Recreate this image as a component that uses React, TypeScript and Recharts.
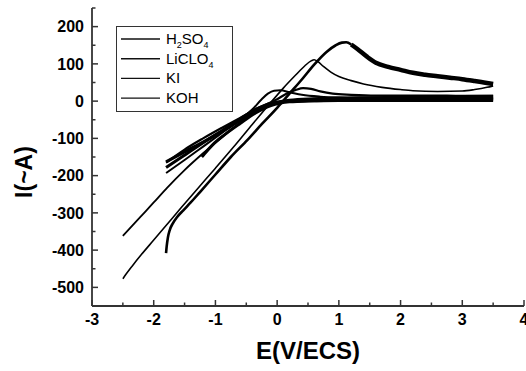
import { LineChart, Line, XAxis, YAxis, Legend } from 'recharts';

// cyclic voltammograms, [E (V/ECS), I]
const h2so4Rise = [
  [-1.8, -408], [-1.79, -390], [-1.77, -366], [-1.74, -346], [-1.69, -328], [-1.62, -311],
  [-1.52, -293], [-1.4, -272], [-1.25, -244], [-1.0, -197], [-0.75, -150], [-0.48, -104],
  [-0.25, -62], [0.0, -18], [0.2, 20], [0.4, 58], [0.6, 98], [0.8, 132], [0.95, 150],
  [1.05, 157], [1.12, 158], [1.2, 152],
];
const h2so4Decay = [
  [1.2, 152], [1.3, 140], [1.45, 120], [1.6, 103], [1.8, 92], [2.0, 84], [2.2, 76], [2.4, 71],
  [2.6, 67], [2.8, 63], [3.0, 59], [3.2, 54], [3.35, 50], [3.5, 46],
];
const h2so4Back = [
  [-1.8, -163], [-1.5, -136], [-1.2, -110], [-0.9, -82], [-0.6, -52], [-0.35, -28], [-0.1, -8],
  [0.2, 2], [0.6, 6], [1.0, 8], [1.5, 9], [2.0, 10], [2.5, 11], [3.0, 12], [3.5, 13],
];
const liclo4Forward = [
  [-2.5, -477], [-2.45, -465], [-2.35, -443], [-2.2, -412], [-2.0, -373], [-1.8, -334],
  [-1.56, -287], [-1.3, -237], [-1.0, -180], [-0.7, -122], [-0.4, -62], [-0.11, -5], [0.1, 35],
  [0.3, 70], [0.45, 95], [0.55, 108], [0.6, 111], [0.66, 106], [0.75, 93], [0.87, 78], [1.0, 66],
  [1.2, 55], [1.4, 46], [1.7, 37], [2.0, 31], [2.2, 28], [2.6, 26], [3.0, 27], [3.2, 31],
  [3.4, 37], [3.5, 41],
];
const liclo4Back = [
  [-2.5, -362], [-2.2, -308], [-2.0, -272], [-1.78, -232], [-1.5, -185], [-1.2, -140],
  [-0.9, -98], [-0.6, -58], [-0.3, -22], [0.0, -3], [0.4, 3], [1.0, 5], [2.0, 6], [3.0, 7], [3.5, 8],
];
const kiForward = [
  [-1.8, -193], [-1.5, -158], [-1.2, -122], [-0.9, -86], [-0.6, -50], [-0.4, -22], [-0.25, 5],
  [-0.15, 20], [-0.05, 28], [0.05, 29], [0.2, 24], [0.4, 17], [0.7, 12], [1.0, 10], [1.5, 9],
  [2.0, 8], [2.5, 8], [3.0, 7], [3.5, 7],
];
const kiBack = [
  [-1.8, -178], [-1.5, -145], [-1.2, -112], [-0.9, -80], [-0.6, -48], [-0.35, -22], [-0.1, -6],
  [0.2, -1], [0.6, 1], [1.0, 2], [2.0, 2], [3.0, 2], [3.5, 2],
];
const kohForward = [
  [-1.8, -165], [-1.5, -130], [-1.2, -100], [-0.9, -72], [-0.6, -45], [-0.3, -18], [0.0, 5],
  [0.15, 20], [0.3, 30], [0.42, 35], [0.55, 33], [0.7, 26], [0.9, 20], [1.2, 17], [1.6, 15],
  [2.0, 15], [2.5, 15], [3.0, 14], [3.5, 14],
];
const kohBack = [
  [-1.22, -150], [-1.18, -142], [-1.05, -118], [-0.85, -90], [-0.6, -60], [-0.35, -32],
  [-0.1, -12], [0.2, -2], [0.6, 1], [1.0, 3], [2.0, 4], [3.0, 5], [3.5, 5],
];

const legendLabels = ['H_2SO_4', 'LiCLO_4', 'KI', 'KOH'];
const eTicks = [-3, -2.5, -2, -1.5, -1, -0.5, 0, 0.5, 1, 1.5, 2, 2.5, 3, 3.5, 4];
const iTicks = [-550, -500, -450, -400, -350, -300, -250, -200, -150, -100, -50, 0, 50, 100, 150, 200, 250];

const toPoints = (rows: number[][]) => rows.map(([e, i]) => ({ e, i }));

const branches = [
  { key: 'h2so4Rise', rows: h2so4Rise, width: 2.6 },
  { key: 'h2so4Decay', rows: h2so4Decay, width: 4.5 },
  { key: 'h2so4Back', rows: h2so4Back, width: 3.2 },
  { key: 'liclo4Forward', rows: liclo4Forward, width: 1.6 },
  { key: 'liclo4Back', rows: liclo4Back, width: 1.8 },
  { key: 'kiForward', rows: kiForward, width: 2 },
  { key: 'kiBack', rows: kiBack, width: 3 },
  { key: 'kohForward', rows: kohForward, width: 2.2 },
  { key: 'kohBack', rows: kohBack, width: 3 },
];

const FONT = '"Liberation Sans", Arial, Helvetica, sans-serif';
const FRAME = '#333';

const isMajorE = (v: number) => Number.isInteger(v);
const isMajorI = (v: number) => v % 100 === 0;

const BottomTick = ({ x, y, payload }: any) => {
  const major = isMajorE(payload.value);
  return (
    <g>
      <line x1={x} y1={y} x2={x} y2={y - (major ? 6 : 3.5)} stroke={FRAME} strokeWidth={1.5} />
      {major && (
        <text x={x} y={y + 19} textAnchor="middle" fontFamily={FONT} fontWeight="bold" fontSize={16} fill="#000">
          {payload.value}
        </text>
      )}
    </g>
  );
};

const TopTick = ({ x, y, payload }: any) => {
  const major = isMajorE(payload.value);
  return <line x1={x} y1={y} x2={x} y2={y + (major ? 6 : 3.5)} stroke={FRAME} strokeWidth={1.5} />;
};

const LeftTick = ({ x, y, payload }: any) => {
  const major = isMajorI(payload.value);
  const labelled = major && payload.value >= -500 && payload.value <= 200;
  return (
    <g>
      <line x1={x} y1={y} x2={x + (major ? 6 : 3.5)} y2={y} stroke={FRAME} strokeWidth={1.5} />
      {labelled && (
        <text x={x - 8} y={y} dy="0.36em" textAnchor="end" fontFamily={FONT} fontWeight="bold" fontSize={16} fill="#000">
          {payload.value}
        </text>
      )}
    </g>
  );
};

const RightTick = ({ x, y, payload }: any) => {
  const major = isMajorI(payload.value);
  return <line x1={x} y1={y} x2={x - (major ? 6 : 3.5)} y2={y} stroke={FRAME} strokeWidth={1.5} />;
};

const XTitle = ({ viewBox }: any) => (
  <text
    x={viewBox.x + viewBox.width / 2}
    y={viewBox.y + viewBox.height - 12}
    textAnchor="middle"
    fontFamily={FONT}
    fontWeight="bold"
    fontSize={24}
    fill="#000"
  >
    E(V/ECS)
  </text>
);

const YTitle = ({ viewBox }: any) => (
  <text
    transform={`translate(${viewBox.x + 32}, ${viewBox.y + viewBox.height / 2 + 15}) rotate(-90)`}
    textAnchor="middle"
    fontFamily={FONT}
    fontWeight="bold"
    fontSize={23}
    fill="#000"
  >
    I(~A)
  </text>
);

const renderLabel = (label: string) =>
  label.split(/(_\d)/).filter(Boolean).map((part, k) =>
    part.startsWith('_') ? (
      <tspan key={k} fontSize={9} dy={4}>{part.slice(1)}</tspan>
    ) : (
      <tspan key={k} fontSize={15} dy={k > 0 ? -4 : 0}>{part}</tspan>
    )
  );

const LegendBox = () => (
  <svg width={117} height={86} style={{ display: 'block' }}>
    <rect x={0.5} y={0.5} width={116} height={85} fill="#fff" stroke={FRAME} strokeWidth={1} />
    {legendLabels.map((label, idx) => {
      const cy = 13 + idx * 19.7;
      return (
        <g key={label}>
          <line x1={5} y1={cy} x2={44} y2={cy} stroke="#111" strokeWidth={1.4} />
          <text x={50} y={cy + 5} fontFamily={FONT} fill="#000">
            {renderLabel(label)}
          </text>
        </g>
      );
    })}
  </svg>
);

export default function App() {
  return (
    <div style={{ position: 'absolute', left: 0, top: 0 }}>
      <LineChart width={526} height={371} margin={{ top: 8, right: 2, left: 0, bottom: 0 }}>
        <XAxis
          xAxisId="bottom"
          dataKey="e"
          type="number"
          domain={[-3, 4]}
          ticks={eTicks}
          interval={0}
          allowDataOverflow
          height={65}
          tickSize={0}
          tickMargin={0}
          tickLine={false}
          tick={<BottomTick />}
          axisLine={{ stroke: FRAME, strokeWidth: 1.8 }}
          label={<XTitle />}
        />
        <XAxis
          xAxisId="top"
          orientation="top"
          dataKey="e"
          type="number"
          domain={[-3, 4]}
          ticks={eTicks}
          interval={0}
          allowDataOverflow
          height={0}
          tickSize={0}
          tickMargin={0}
          tickLine={false}
          tick={<TopTick />}
          axisLine={{ stroke: FRAME, strokeWidth: 1.8 }}
        />
        <YAxis
          yAxisId="left"
          type="number"
          domain={[-550, 250]}
          ticks={iTicks}
          interval={0}
          allowDataOverflow
          width={92}
          tickSize={0}
          tickMargin={0}
          tickLine={false}
          tick={<LeftTick />}
          axisLine={{ stroke: FRAME, strokeWidth: 1.8 }}
          label={<YTitle />}
        />
        <YAxis
          yAxisId="right"
          orientation="right"
          type="number"
          domain={[-550, 250]}
          ticks={iTicks}
          interval={0}
          allowDataOverflow
          width={0}
          tickSize={0}
          tickMargin={0}
          tickLine={false}
          tick={<RightTick />}
          axisLine={{ stroke: FRAME, strokeWidth: 1.8 }}
        />
        {branches.map((b) => (
          <Line
            key={b.key}
            xAxisId="bottom"
            yAxisId="left"
            data={toPoints(b.rows)}
            dataKey="i"
            type="monotone"
            stroke="#000"
            strokeWidth={b.width}
            dot={false}
            activeDot={false}
            legendType="none"
            isAnimationActive={false}
          />
        ))}
        <Legend
          layout="vertical"
          align="center"
          verticalAlign="middle"
          content={() => <LegendBox />}
          wrapperStyle={{ left: 116, top: 26, width: 117, height: 86 }}
        />
      </LineChart>
    </div>
  );
}
